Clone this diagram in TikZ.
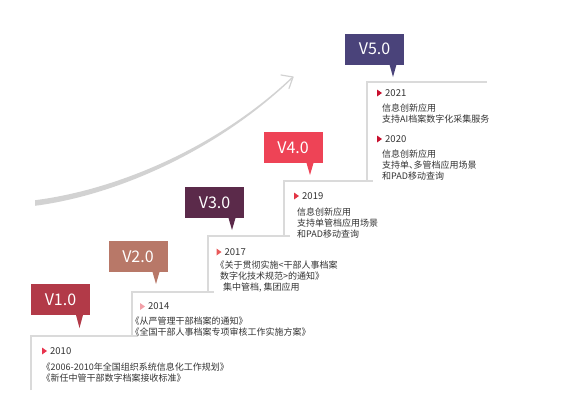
\documentclass[tikz,border=0pt]{standalone}
\usepackage{fontspec}
\setmainfont{Noto Sans CJK SC}[RawFeature={+halt}]
\usetikzlibrary{calc}

\definecolor{vonered}{HTML}{B23A48}
\definecolor{vtworose}{HTML}{B87868}
\definecolor{vthreeplum}{HTML}{5B2A4A}
\definecolor{vfourred}{HTML}{EE4356}
\definecolor{vfivenavy}{HTML}{4A437A}
\definecolor{markone}{HTML}{E8344E}
\definecolor{marktwo}{HTML}{F2A0A8}
\definecolor{markthree}{HTML}{E85A5A}
\definecolor{markfour}{HTML}{E23545}
\definecolor{markfive}{HTML}{C8102E}
\definecolor{stairgray}{HTML}{DADADA}
\definecolor{arrowgray}{HTML}{D2D2D2}
\definecolor{txtgray}{HTML}{333333}

\begin{document}
\begin{tikzpicture}[x=1pt, y=-1pt,
  tag/.style={fill=#1, text=white, minimum width=59pt, minimum height=31pt,
    inner sep=0pt, outer sep=0pt, font=\fontsize{16}{16}\selectfont},
  year/.style={anchor=west, inner sep=0pt, text=txtgray,
    font=\fontsize{9.5}{11}\selectfont},
  desc/.style={anchor=north west, inner sep=0pt, align=left, text=txtgray,
    font=\fontsize{9}{11}\selectfont},
  stair/.style={draw=stairgray, line width=1.8pt}]
  \useasboundingbox (0,0) rectangle (569,413);

  % Growth arrow
  \coordinate (arrowstart) at (35,203);
  \coordinate (arrowtip) at (293,77);
  \fill[arrowgray] ($(arrowstart)+(0,-2.8)$) .. controls (120,189.3) and (220,145.5)
    .. ($(arrowtip)+(-0.4,-0.5)$) -- ($(arrowtip)+(0.4,0.5)$)
    .. controls (220,148.5) and (120,194.7) .. ($(arrowstart)+(0,2.8)$) -- cycle;
  \draw[arrowgray, line width=1.2pt, line cap=round, line join=round]
    (281,75) -- (arrowtip) -- (289,88.5);

  % Stairs
  \draw[stair] (31,390) -- (31,336) -- (138,336);
  \draw[stair] (132,336) -- (132,292) -- (214,292);
  \draw[stair] (208,292) -- (208,236) -- (290,236);
  \draw[stair] (284,236) -- (284,181) -- (373,181);
  \draw[stair] (367,181) -- (367,82) -- (487,82);

  % Version tags
  \node[tag=vonered] (v1) at (60.5,299.5) {V1.0};
  \fill[vonered] ($(v1.south west)+(45,0)$) -- ++(7,0) -- ++(-3.5,13) -- cycle;
  \node[tag=vtworose] (v2) at (138,256.5) {V2.0};
  \fill[vtworose] ($(v2.south west)+(44,0)$) -- ++(7,0) -- ++(-3.5,12) -- cycle;
  \node[tag=vthreeplum] (v3) at (214.5,202.5) {V3.0};
  \fill[vthreeplum] ($(v3.south west)+(43.5,0)$) -- ++(7,0) -- ++(-3.5,12) -- cycle;
  \node[tag=vfourred] (v4) at (293,147.5) {V4.0};
  \fill[vfourred] ($(v4.south west)+(43,0)$) -- ++(7,0) -- ++(-3.5,12) -- cycle;
  \node[tag=vfivenavy] (v5) at (374.5,49) {V5.0};
  \fill[vfivenavy] ($(v5.south west)+(44.5,0)$) -- ++(7,0) -- ++(-3.5,12.5) -- cycle;

  % 2010
  \node[year] (y2010) at (50,351) {2010};
  \fill[markone] ($(y2010.west)+(-8,-3.5)$) -- ++(5,3.5) -- ++(-5,3.5) -- cycle;
  \node[desc] (d2010) at (46,362.5)
    {《2006-2010年全国组织系统信息化工作规划》\\《新任中管干部数字档案接收标准》};

  % 2014
  \node[year] (y2014) at (148,306.5) {2014};
  \fill[marktwo] ($(y2014.west)+(-8,-3.5)$) -- ++(5,3.5) -- ++(-5,3.5) -- cycle;
  \node[desc] (d2014) at (135,317)
    {《从严管理干部档案的通知》\\《全国干部人事档案专项审核工作实施方案》};

  % 2017
  \node[year] (y2017) at (224.5,252) {2017};
  \fill[markthree] ($(y2017.west)+(-8,-3.5)$) -- ++(5,3.5) -- ++(-5,3.5) -- cycle;
  \node[desc] (d2017) at (220,260.5)
    {《关于贯彻实施<干部人事档案\\数字化技术规范>的通知》\\\hspace*{3pt}集中管档, 集团应用};

  % 2019
  \node[year] (y2019) at (302,196) {2019};
  \fill[markfour] ($(y2019.west)+(-8,-3.5)$) -- ++(5,3.5) -- ++(-5,3.5) -- cycle;
  \node[desc] (d2019) at (297,207.5)
    {信息创新应用\\支持单管档应用场景\\和PAD移动查询};

  % 2021 and 2020
  \node[year] (y2021) at (385,93) {2021};
  \fill[markfive] ($(y2021.west)+(-8,-3.5)$) -- ++(5,3.5) -- ++(-5,3.5) -- cycle;
  \node[desc] (d2021) at (382,103.5)
    {信息创新应用\\支持AI档案数字化采集服务};
  \node[year] (y2020) at (385,139) {2020};
  \fill[markfive] ($(y2020.west)+(-8,-3.5)$) -- ++(5,3.5) -- ++(-5,3.5) -- cycle;
  \node[desc] (d2020) at (382,149.5)
    {信息创新应用\\支持单、多管档应用场景\\和PAD移动查询};

\end{tikzpicture}
\end{document}
